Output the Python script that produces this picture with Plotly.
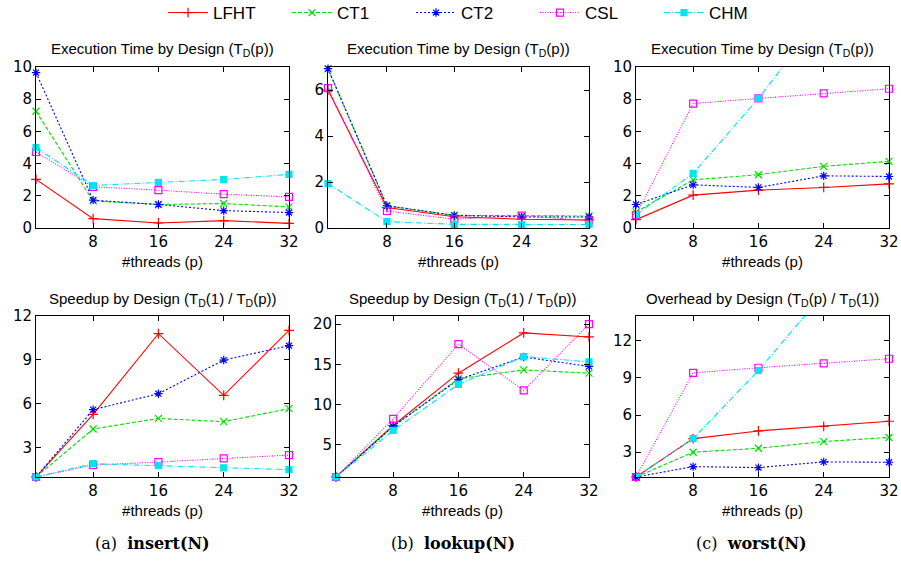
import plotly.graph_objects as go

# ---------------- data ----------------
threads = [1, 8, 16, 24, 32]
x_tick_vals = [8, 16, 24, 32]
designs = ["LFHT", "CT1", "CT2", "CSL", "CHM"]

# (a) insert(N): execution time
insert_time_lfht = [3.02, 0.58, 0.31, 0.46, 0.29]
insert_time_ct1 = [7.25, 1.68, 1.46, 1.52, 1.31]
insert_time_ct2 = [9.65, 1.73, 1.46, 1.08, 0.96]
insert_time_csl = [4.72, 2.56, 2.35, 2.10, 1.93]
insert_time_chm = [4.99, 2.64, 2.83, 3.01, 3.33]
# (a) insert(N): speedup
insert_speedup_lfht = [1, 5.28, 10.79, 6.58, 11.02]
insert_speedup_ct1 = [1, 4.28, 5.0, 4.78, 5.67]
insert_speedup_ct2 = [1, 5.6, 6.69, 8.99, 9.97]
insert_speedup_csl = [1, 1.82, 2.02, 2.27, 2.5]
insert_speedup_chm = [1, 1.91, 1.77, 1.63, 1.5]

# (b) lookup(N): execution time
lookup_time_lfht = [6.0, 0.89, 0.49, 0.38, 0.35]
lookup_time_ct1 = [6.92, 0.96, 0.55, 0.52, 0.52]
lookup_time_ct2 = [6.93, 0.97, 0.55, 0.48, 0.48]
lookup_time_csl = [6.08, 0.74, 0.38, 0.54, 0.32]
lookup_time_chm = [1.93, 0.28, 0.16, 0.15, 0.15]
# (b) lookup(N): speedup
lookup_speedup_lfht = [1, 7.4, 13.9, 18.9, 18.4]
lookup_speedup_ct1 = [1, 7.3, 13.2, 14.3, 13.9]
lookup_speedup_ct2 = [1, 7.28, 13.1, 15.9, 14.74]
lookup_speedup_csl = [1, 8.23, 17.5, 11.75, 20.0]
lookup_speedup_chm = [1, 6.78, 12.5, 15.95, 15.3]

# (c) worst(N): execution time
worst_time_lfht = [0.52, 2.04, 2.35, 2.52, 2.74]
worst_time_ct1 = [1.0, 2.99, 3.31, 3.83, 4.14]
worst_time_ct2 = [1.46, 2.68, 2.52, 3.24, 3.2]
worst_time_csl = [0.8, 7.73, 8.05, 8.36, 8.65]
worst_time_chm = [0.83, 3.39, 8.05, 13.3, 17.5]
# (c) worst(N): overhead
worst_overhead_lfht = [1, 4.1, 4.72, 5.08, 5.5]
worst_overhead_ct1 = [1, 3.0, 3.32, 3.86, 4.19]
worst_overhead_ct2 = [1, 1.84, 1.76, 2.22, 2.19]
worst_overhead_csl = [1, 9.41, 9.82, 10.17, 10.55]
worst_overhead_chm = [1, 4.1, 9.6, 15.8, 21.0]

panels = [
    # (series list, y range, y ticks, title)
    ([insert_time_lfht, insert_time_ct1, insert_time_ct2, insert_time_csl, insert_time_chm],
     [0, 10], [0, 2, 4, 6, 8, 10], "Execution Time by Design (T<sub>D</sub>(p))"),
    ([lookup_time_lfht, lookup_time_ct1, lookup_time_ct2, lookup_time_csl, lookup_time_chm],
     [0, 7], [0, 2, 4, 6], "Execution Time by Design (T<sub>D</sub>(p))"),
    ([worst_time_lfht, worst_time_ct1, worst_time_ct2, worst_time_csl, worst_time_chm],
     [0, 10], [0, 2, 4, 6, 8, 10], "Execution Time by Design (T<sub>D</sub>(p))"),
    ([insert_speedup_lfht, insert_speedup_ct1, insert_speedup_ct2, insert_speedup_csl, insert_speedup_chm],
     [1, 12], [3, 6, 9, 12], "Speedup by Design (T<sub>D</sub>(1) / T<sub>D</sub>(p))"),
    ([lookup_speedup_lfht, lookup_speedup_ct1, lookup_speedup_ct2, lookup_speedup_csl, lookup_speedup_chm],
     [1, 21], [5, 10, 15, 20], "Speedup by Design (T<sub>D</sub>(1) / T<sub>D</sub>(p))"),
    ([worst_overhead_lfht, worst_overhead_ct1, worst_overhead_ct2, worst_overhead_csl, worst_overhead_chm],
     [1, 14], [3, 6, 9, 12], "Overhead by Design (T<sub>D</sub>(p) / T<sub>D</sub>(1))"),
]

captions = ["(a)&nbsp;&nbsp;<b>insert(N)</b>", "(b)&nbsp;&nbsp;<b>lookup(N)</b>", "(c)&nbsp;&nbsp;<b>worst(N)</b>"]

# ---------------- styles ----------------
colors = ["#ff0000", "#00dd00", "#0000ff", "#ff00ff", "#00e5ee"]
dashes = ["solid", "4px,2px", "2px,2px", "1px,1.5px", "6px,2px,1px,2px"]
symbols = ["cross-thin-open", "x-thin-open", "asterisk-open", "square-open", "square"]
msizes = [7, 7, 7, 7, 6]

W, H = 901, 561
# pixel boxes (left, right, top, bottom) per panel
boxes = [
    (36, 289, 67, 228), (328, 589, 67, 228), (636, 889, 67, 228),
    (36, 289, 316, 477), (336, 589, 316, 477), (636, 889, 316, 477),
]

fig = go.Figure()
TICKFONT = dict(family="DejaVu Sans", size=15, color="black")
LABFONT = dict(family="Liberation Sans", size=15, color="black")

for pi, (series, yr, yt, title) in enumerate(panels):
    n = pi + 1
    xa = "x" if n == 1 else f"x{n}"
    ya = "y" if n == 1 else f"y{n}"
    for di, vals in enumerate(series):
        clip = (designs[di] == "CHM" and pi in (2, 5))
        fig.add_trace(go.Scatter(
            x=threads, y=vals, xaxis=xa, yaxis=ya,
            mode="lines+markers", name=designs[di],
            legendgroup=designs[di], showlegend=(pi == 0),
            line=dict(color=colors[di], width=1.1, dash=dashes[di]),
            marker=dict(symbol=symbols[di], size=msizes[di], color=colors[di],
                        line=dict(color=colors[di], width=1.2)),
            cliponaxis=clip,
        ))
    l, r, t, b = boxes[pi]
    axis_common = dict(showline=True, linecolor="black", linewidth=1, mirror="ticks",
                       ticks="inside", ticklen=5, tickcolor="black", tickwidth=1,
                       showgrid=False, zeroline=False, tickfont=TICKFONT,
                       automargin=False, ticklabeloverflow="allow")
    xkey = "xaxis" if n == 1 else f"xaxis{n}"
    ykey = "yaxis" if n == 1 else f"yaxis{n}"
    fig.update_layout(**{
        xkey: dict(domain=[l / W, r / W], range=[1, 32], tickvals=x_tick_vals,
                   anchor=ya, title=dict(text="#threads (p)", font=LABFONT, standoff=6),
                   **axis_common),
        ykey: dict(domain=[1 - b / H, 1 - t / H], range=yr, tickvals=yt,
                   anchor=xa, **axis_common),
    })
    fig.add_annotation(
        text=title, xref="paper", yref="paper",
        x=(l + r) / 2 / W, y=1 - (t - 17) / H, xanchor="center", yanchor="middle",
        showarrow=False, font=dict(family="Liberation Sans", size=15, color="black"))

for ci, cap in enumerate(captions):
    cx = [152, 453, 751][ci]
    fig.add_annotation(
        text=cap, xref="paper", yref="paper", x=cx / W, y=1 - 543 / H,
        xanchor="center", yanchor="middle", showarrow=False,
        font=dict(family="DejaVu Serif", size=16, color="black"))

fig.update_layout(
    template="none",
    width=W, height=H, margin=dict(l=0, r=0, t=0, b=0, pad=0, autoexpand=False),
    paper_bgcolor="white", plot_bgcolor="white",
    legend=dict(orientation="h", x=0.525, xanchor="center", y=1 - 13 / H, yanchor="middle",
                font=dict(family="Liberation Sans", size=17, color="black"),
                bgcolor="rgba(0,0,0,0)", itemwidth=40, tracegroupgap=0,
                entrywidth=69, entrywidthmode="pixels"),
)

fig.write_html("out.html",
               config={"displayModeBar": False},
               post_script="document.body.style.margin='0px';document.body.style.overflow='hidden';")
